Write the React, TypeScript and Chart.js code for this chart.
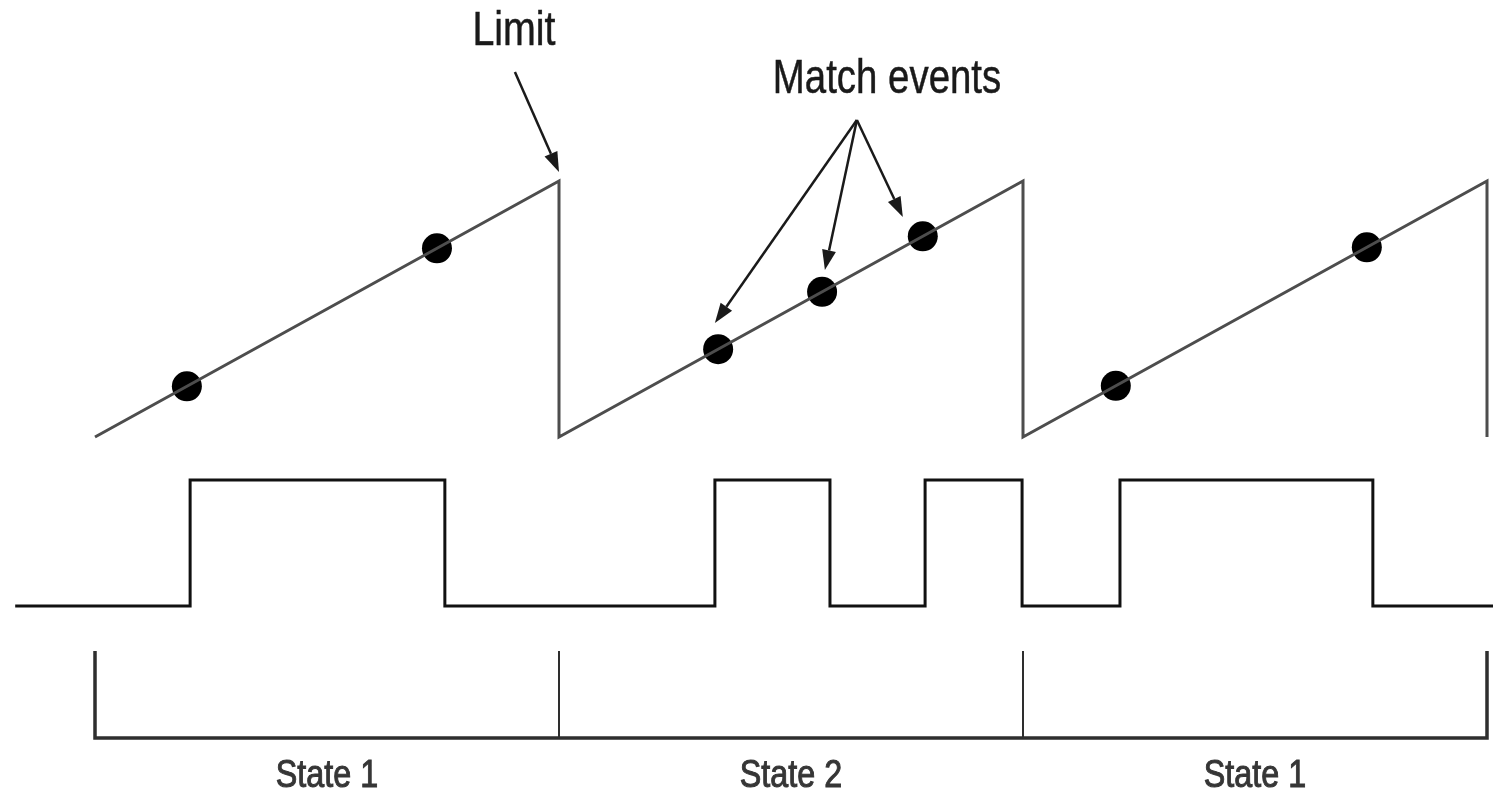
import React, { useEffect, useRef } from "react";
import { Chart, registerables } from "chart.js";

Chart.register(...registerables);

const W = 1493;
const H = 797;

// ---- data (time in arbitrary units; one counter period = 10) ----
const counterTimes = [0, 10, 10, 20, 20, 30, 30];
const counterValues = [0, 100, 0, 100, 0, 100, 0];

const matchTimes = [1.98, 7.37, 13.43, 15.67, 17.84, 22.0, 27.41];
const matchValues = [19.8, 73.7, 34.3, 56.7, 78.4, 20.0, 74.1];

const outputTimes = [-1.72, 2.05, 7.54, 13.36, 15.84, 17.89, 19.98, 22.09, 27.54, 30.2];
const outputLevels = [0, 1, 0, 1, 0, 1, 0, 1, 0, 0];

const stateBounds = [0, 10, 20, 30];
const stateLabels = ["State 1", "State 2", "State 1"];

const limitLabel = "Limit";
const limitLabelAt = [9.03, 153.1];
const limitArrowFrom = [9.05, 142.6];
const limitArrowTo = [10.0, 103.5];

const matchLabel = "Match events";
const matchLabelAt = [17.07, 134.4];
const matchArrowFrom = [16.42, 123.8];
const matchArrowTips = [
  [13.36, 44.5],
  [15.73, 65.2],
  [17.41, 85.9],
];

// ---- layout helpers (map value ranges onto pixel bands) ----
function lane(pxLo: number, pxHi: number, lo: number, hi: number, size: number) {
  const k = (pxLo - pxHi) / (hi - lo);
  return { min: lo - (size - pxLo) / k, max: hi + pxHi / k };
}
function xRange(px0: number, px1: number, t0: number, t1: number, size: number) {
  const k = (px1 - px0) / (t1 - t0);
  return { min: t0 - px0 / k, max: t1 + (size - px1) / k };
}

const FONT = "'Liberation Sans', Arial, sans-serif";

function narrowText(
  ctx: CanvasRenderingContext2D,
  text: string,
  x: number,
  y: number,
  sx: number,
  stroke = 0
) {
  ctx.save();
  ctx.translate(x, y);
  ctx.scale(sx, 1);
  ctx.fillText(text, 0, 0);
  if (stroke > 0) {
    ctx.lineWidth = stroke;
    ctx.strokeStyle = ctx.fillStyle as string;
    ctx.strokeText(text, 0, 0);
  }
  ctx.restore();
}

function arrow(ctx: CanvasRenderingContext2D, x1: number, y1: number, x2: number, y2: number) {
  const ang = Math.atan2(y2 - y1, x2 - x1);
  const len = 20;
  const half = 7;
  const bx = x2 - Math.cos(ang) * len;
  const by = y2 - Math.sin(ang) * len;
  ctx.beginPath();
  ctx.moveTo(x1, y1);
  ctx.lineTo(bx, by);
  ctx.stroke();
  ctx.beginPath();
  ctx.moveTo(x2, y2);
  ctx.lineTo(bx + Math.sin(ang) * half, by - Math.cos(ang) * half);
  ctx.lineTo(bx - Math.sin(ang) * half, by + Math.cos(ang) * half);
  ctx.closePath();
  ctx.fill();
}

const annotations = {
  id: "annotations",
  afterDraw(chart: any) {
    const ctx: CanvasRenderingContext2D = chart.ctx;
    const xs = chart.scales.x;
    const yc = chart.scales.yCounter;
    const ys = chart.scales.yState;
    const px = (t: number) => xs.getPixelForValue(t);
    const py = (v: number) => yc.getPixelForValue(v);
    ctx.save();
    ctx.fillStyle = "#1a1a1a";
    ctx.strokeStyle = "#1a1a1a";
    ctx.lineWidth = 2.5;
    ctx.textAlign = "center";
    ctx.textBaseline = "alphabetic";
    ctx.font = `48px ${FONT}`;
    narrowText(ctx, limitLabel, px(limitLabelAt[0]), py(limitLabelAt[1]), 0.82, 0.5);
    narrowText(ctx, matchLabel, px(matchLabelAt[0]), py(matchLabelAt[1]), 0.8, 0.5);
    ctx.lineWidth = 2.5;
    ctx.strokeStyle = "#1a1a1a";
    arrow(ctx, px(limitArrowFrom[0]), py(limitArrowFrom[1]), px(limitArrowTo[0]), py(limitArrowTo[1]));
    for (const tip of matchArrowTips) {
      arrow(ctx, px(matchArrowFrom[0]), py(matchArrowFrom[1]), px(tip[0]), py(tip[1]));
    }
    ctx.fillStyle = "#363636";
    ctx.font = `38px ${FONT}`;
    for (let i = 0; i < stateLabels.length; i++) {
      const mid = (stateBounds[i] + stateBounds[i + 1]) / 2;
      narrowText(ctx, stateLabels[i], px(mid), ys.getPixelForValue(-0.563), 0.85, 1);
    }
    ctx.restore();
  },
};

export default function App() {
  const ref = useRef<HTMLCanvasElement>(null);

  useEffect(() => {
    document.body.style.margin = "0";
    document.body.style.background = "#ffffff";
    const canvas = ref.current;
    if (!canvas) return;

    const counterData = counterTimes.map((t, i) => ({ x: t, y: counterValues[i] }));
    const matchData = matchTimes.map((t, i) => ({ x: t, y: matchValues[i] }));
    const outputData = outputTimes.map((t, i) => ({ x: t, y: outputLevels[i] }));
    const first = stateBounds[0];
    const last = stateBounds[stateBounds.length - 1];
    const bracketData = [
      { x: first, y: 1 },
      { x: first, y: 0 },
      { x: last, y: 0 },
      { x: last, y: 1 },
    ];
    const innerTicks: any[] = [];
    stateBounds.slice(1, -1).forEach((b) => {
      innerTicks.push({ x: b, y: 1 }, { x: b, y: 0 }, { x: b, y: null });
    });

    const xr = xRange(95, 1487, 0, 30, W);
    const cr = lane(437, 181, 0, 100, H);
    const pr = lane(606, 480, 0, 1, H);
    const sr = lane(738, 651, 0, 1, H);

    const chart = new Chart(canvas, {
      type: "line",
      data: {
        datasets: [
          {
            label: "counter",
            data: counterData,
            yAxisID: "yCounter",
            borderColor: "#4d4d4d",
            borderWidth: 3,
            pointRadius: 0,
            tension: 0,
            clip: false as any,
          },
          {
            label: "match",
            data: matchData,
            yAxisID: "yCounter",
            showLine: false,
            pointRadius: 15,
            pointBackgroundColor: "#000000",
            pointBorderWidth: 0,
            clip: false as any,
          },
          {
            label: "output",
            data: outputData,
            yAxisID: "yOutput",
            borderColor: "#111111",
            borderWidth: 3,
            pointRadius: 0,
            stepped: true,
            clip: false as any,
          },
          {
            label: "stateBracket",
            data: bracketData,
            yAxisID: "yState",
            borderColor: "#2e2e2e",
            borderWidth: 3.5,
            pointRadius: 0,
            borderJoinStyle: "miter",
            clip: false as any,
          },
          {
            label: "stateTicks",
            data: innerTicks,
            yAxisID: "yState",
            borderColor: "#2e2e2e",
            borderWidth: 2,
            pointRadius: 0,
            spanGaps: false,
            clip: false as any,
          },
        ],
      },
      options: {
        animation: false,
        responsive: false,
        maintainAspectRatio: false,
        events: [],
        layout: { padding: 0, autoPadding: false } as any,
        plugins: { legend: { display: false }, tooltip: { enabled: false } },
        scales: {
          x: { type: "linear", display: false, min: xr.min, max: xr.max },
          yCounter: { type: "linear", display: false, min: cr.min, max: cr.max },
          yOutput: { type: "linear", display: false, min: pr.min, max: pr.max },
          yState: { type: "linear", display: false, min: sr.min, max: sr.max },
        },
      },
      plugins: [annotations],
    });

    return () => chart.destroy();
  }, []);

  return (
    <canvas
      ref={ref}
      width={W}
      height={H}
      style={{ display: "block", width: W, height: H }}
    />
  );
}
